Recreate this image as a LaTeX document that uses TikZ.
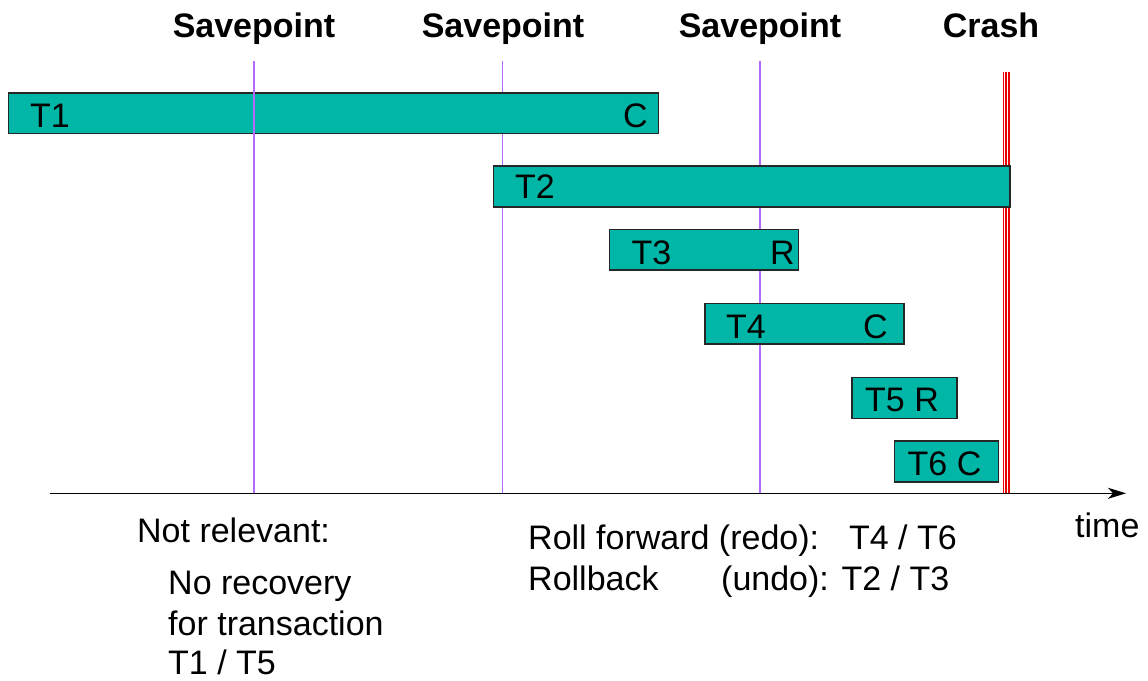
\documentclass[tikz,border=0pt]{standalone}
\usepackage{fontspec}
\setmainfont{Liberation Sans}
\usetikzlibrary{arrows.meta}
\definecolor{teal}{RGB}{0,182,166}
\definecolor{savepurple}{RGB}{180,105,255}
\definecolor{crashred}{RGB}{235,0,0}
\begin{document}
\begin{tikzpicture}[x=1pt,y=-1pt,
  box/.style={draw=black!85,line width=1.3pt,fill=teal},
  lbl/.style={inner sep=0pt,anchor=base west,font=\fontsize{34}{40}\selectfont},
  head/.style={inner sep=0pt,anchor=base,font=\fontsize{34}{40}\selectfont\bfseries},
  saveline/.style={draw=savepurple,line width=1.6pt},
  crashline/.style={draw=crashred,line width=1.4pt}]
\useasboundingbox (0,0) rectangle (1148,680);
% headings
\node[head] (h1) at (254,37) {Savepoint};
\node[head] (h2) at (503,37) {Savepoint};
\node[head] (h3) at (760,37) {Savepoint};
\node[head] (h4) at (991,37) {Crash};
% savepoint line endpoints
\coordinate (s1t) at (254,61); \coordinate (s1b) at (254,493);
\coordinate (s2t) at (502.5,61); \coordinate (s2b) at (502.5,493);
\coordinate (s3t) at (760,61); \coordinate (s3b) at (760,493);
\draw[saveline] (s2t) -- (s2b);
\draw[saveline] (s3t) -- (s3b);
% boxes
\draw[box] (8.5,93) rectangle (658.5,133.5);
\draw[saveline] (s1t) -- (s1b);
\draw[box] (609.5,229.5) rectangle (798.5,270);
\draw[box] (705,303.5) rectangle (904,344);
\draw[box] (852,377.5) rectangle (957,418.5);
\draw[box] (894.5,441) rectangle (998.5,482);
% crash lines
\coordinate (c1t) at (1003.2,72); \coordinate (c1b) at (1003.2,493);
\coordinate (c2t) at (1006.1,72); \coordinate (c2b) at (1006.1,493);
\coordinate (c3t) at (1009,72); \coordinate (c3b) at (1009,493);
\draw[crashline] (c1t) -- (c1b);
\draw[crashline] (c2t) -- (c2b);
\draw[crashline] (c3t) -- (c3b);
\draw[box] (493.5,166) rectangle (1010,207);
% box texts
\node[lbl] (t1) at (30,127) {T1};
\node[lbl] (t1c) at (623,127) {C};
\node[lbl] (t2) at (515,198) {T2};
\node[lbl] (t3) at (631.5,264.5) {T3};
\node[lbl] (t3r) at (770,264.5) {R};
\node[lbl] (t4) at (726,338) {T4};
\node[lbl] (t4c) at (863,338) {C};
\node[lbl] (t5) at (865,411.5) {T5 R};
\node[lbl] (t6) at (907.5,475) {T6 C};
% time axis
\coordinate (a0) at (50,493.3);
\coordinate (a1) at (1126,493.3);
\draw[line width=1.5pt,-{Stealth[length=18pt,width=11pt,inset=5pt]}] (a0) -- (a1);
\node[lbl] (time) at (1075,537) {time};
% bottom texts
\node[lbl] (nr) at (137,542) {Not relevant:};
\node[lbl] (nr1) at (168,594) {No recovery};
\node[lbl] (nr2) at (168,635) {for transaction};
\node[lbl] (nr3) at (168,674) {T1 / T5};
\node[lbl] (rf) at (528,549) {Roll forward (redo):};
\node[lbl,anchor=base east] (rf2) at (957,549) {T4 / T6};
\node[lbl] (rb) at (528,590) {Rollback};
\node[lbl] (rb2) at (721,590) {(undo): T2 / T3};
\end{tikzpicture}
\end{document}
